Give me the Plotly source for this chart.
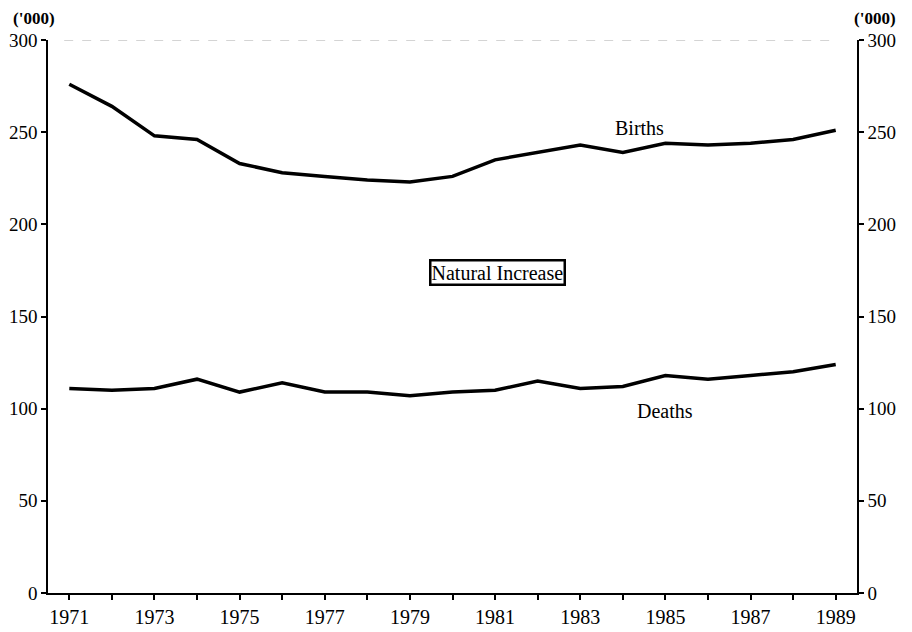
import plotly.graph_objects as go

years = list(range(1971, 1990))
births = [276, 264, 248, 246, 233, 228, 226, 224, 223, 226, 235, 239, 243, 239, 244, 243, 244, 246, 251]
deaths = [111, 110, 111, 116, 109, 114, 109, 109, 107, 109, 110, 115, 111, 112, 118, 116, 118, 120, 124]
y_ticks = [0, 50, 100, 150, 200, 250, 300]
x_ticks = list(range(1971, 1990, 2))

font = dict(family="Liberation Serif", size=20, color="black")
unit_font = dict(family="Liberation Serif", size=17, color="black")

fig = go.Figure()
fig.add_trace(go.Scatter(x=years, y=births, mode="lines", name="Births",
                         line=dict(color="black", width=3.5)))
fig.add_trace(go.Scatter(x=years, y=deaths, mode="lines", name="Deaths",
                         line=dict(color="black", width=3.5)))
# invisible copy so the right axis gets drawn
fig.add_trace(go.Scatter(x=years, y=deaths, yaxis="y2", mode="lines",
                         line=dict(width=0), hoverinfo="skip", showlegend=False))

fig.add_annotation(x=1984.4, y=252, text="Births", showarrow=False, font=font)
fig.add_annotation(x=1985.0, y=99, text="Deaths", showarrow=False, font=font)
fig.add_annotation(x=1981.05, y=174, text="Natural Increase", showarrow=False, font=font,
                   bordercolor="black", borderwidth=2.5, borderpad=0, bgcolor="white")
fig.add_annotation(xref="paper", yref="paper", x=0, y=1, xanchor="center", yanchor="middle",
                   xshift=-14, yshift=22, text="<b>('000)</b>", showarrow=False, font=unit_font)
fig.add_annotation(xref="paper", yref="paper", x=1, y=1, xanchor="center", yanchor="middle",
                   xshift=18, yshift=22, text="<b>('000)</b>", showarrow=False, font=unit_font)

# faint top border
fig.add_shape(type="line", xref="paper", yref="y", x0=0.02, x1=0.97, y0=300, y1=300,
              line=dict(color="#aaaaaa", width=1, dash="dash"))

axis_style = dict(ticks="outside", ticklen=5, tickwidth=1.5, tickcolor="black",
                  showline=True, linecolor="black", linewidth=1.5, showgrid=False,
                  zeroline=False, automargin=False)
y_font = dict(family="Liberation Serif", size=19, color="black")

fig.update_layout(
    width=904, height=624,
    margin=dict(l=40, r=55, t=32, b=39),
    paper_bgcolor="white", plot_bgcolor="white",
    showlegend=False,
    font=font,
    xaxis=dict(range=[1970.5, 1989.5], tickvals=x_ticks,
               minor=dict(dtick=1, tick0=1971, ticks="outside", ticklen=5,
                          tickcolor="black", tickwidth=1.5), **axis_style),
    yaxis=dict(range=[0, 300], tickvals=y_ticks, tickfont=y_font, **axis_style),
    yaxis2=dict(range=[0, 300], tickvals=y_ticks, tickfont=y_font, overlaying="y",
                side="right", **axis_style),
)

fig.write_html("out.html")
